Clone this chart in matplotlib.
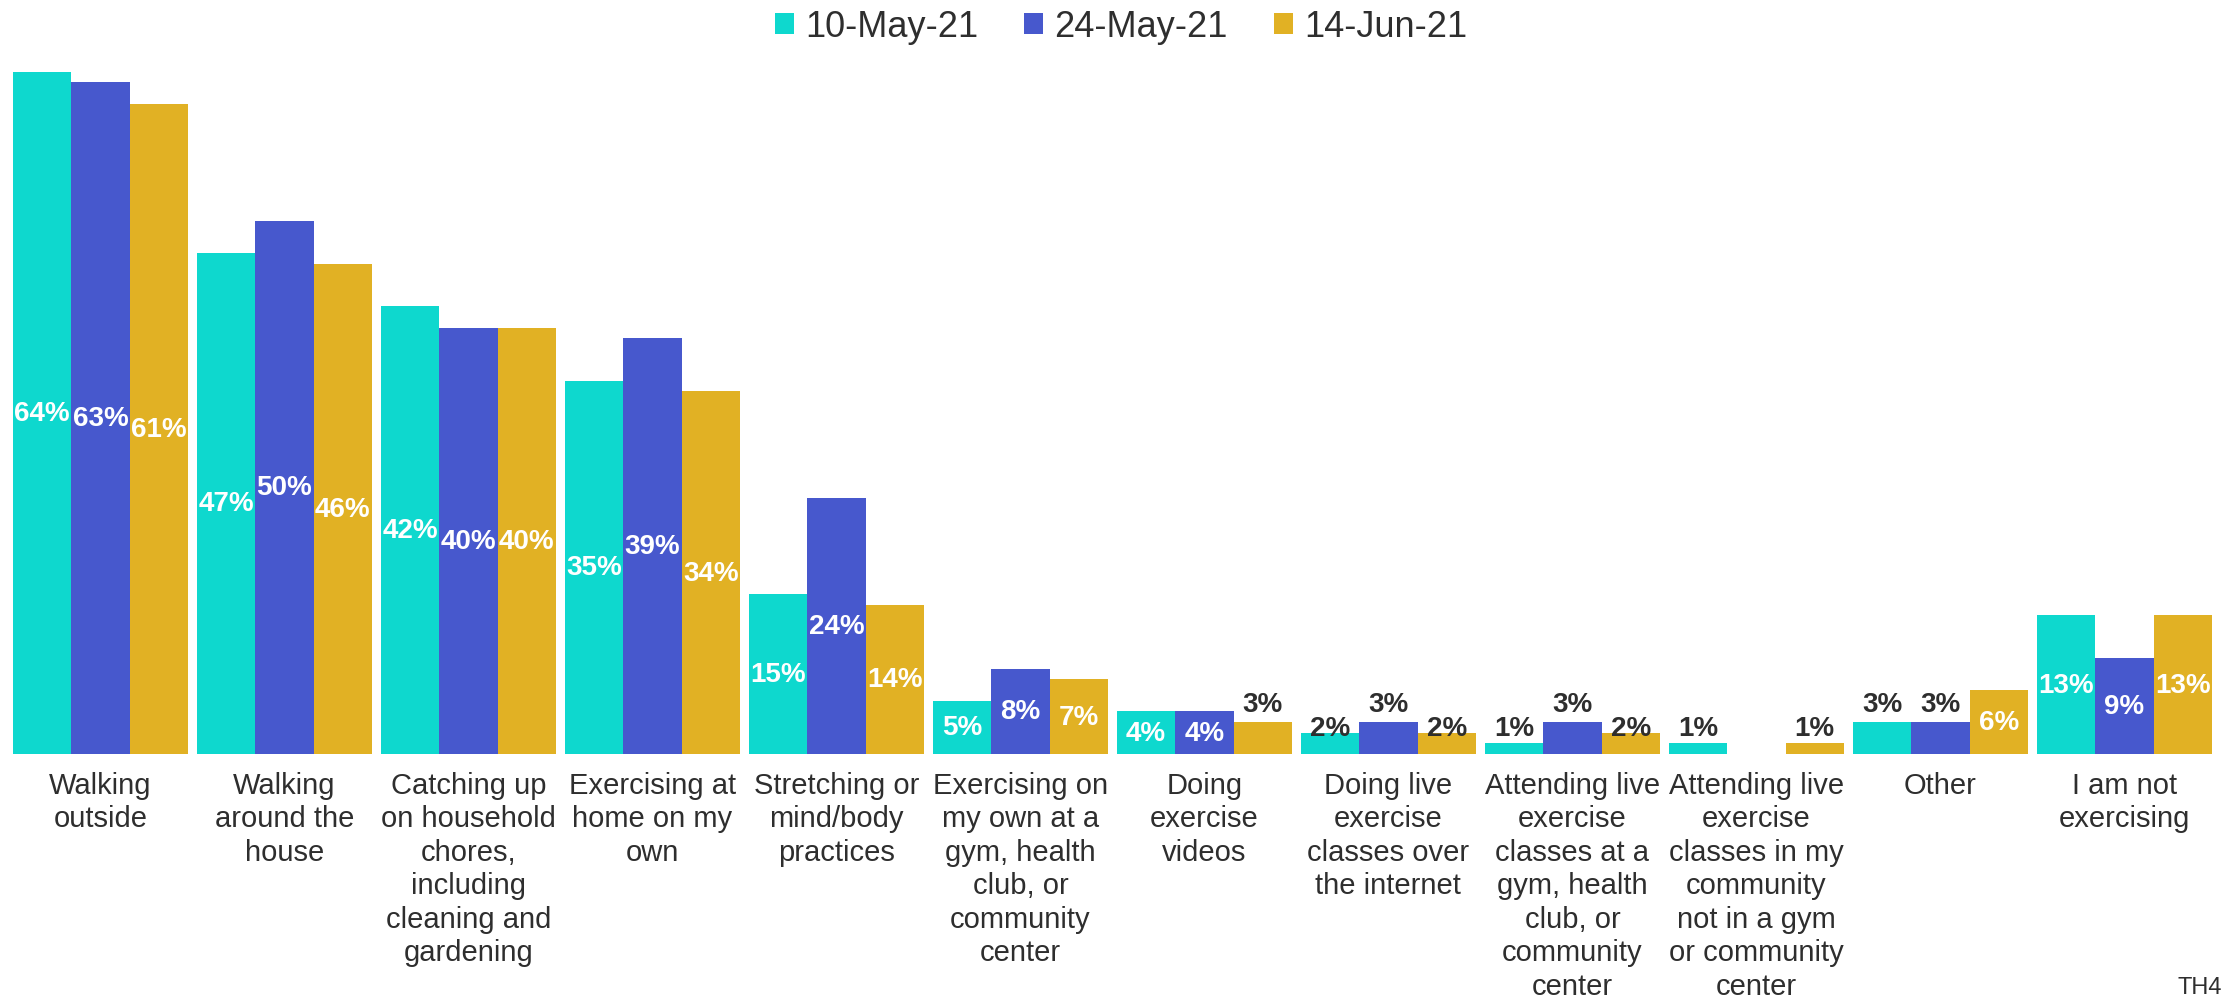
import numpy as np
import matplotlib
matplotlib.use("Agg")
import matplotlib.pyplot as plt
from matplotlib.patches import Patch
from matplotlib import font_manager

# Survey answers: what people are doing for exercise
categories = [
    "Walking\noutside",
    "Walking\naround the\nhouse",
    "Catching up\non household\nchores,\nincluding\ncleaning and\ngardening",
    "Exercising at\nhome on my\nown",
    "Stretching or\nmind/body\npractices",
    "Exercising on\nmy own at a\ngym, health\nclub, or\ncommunity\ncenter",
    "Doing\nexercise\nvideos",
    "Doing live\nexercise\nclasses over\nthe internet",
    "Attending live\nexercise\nclasses at a\ngym, health\nclub, or\ncommunity\ncenter",
    "Attending live\nexercise\nclasses in my\ncommunity\nnot in a gym\nor community\ncenter",
    "Other",
    "I am not\nexercising",
]
waves = ["10-May-21", "24-May-21", "14-Jun-21"]
may10 = [64, 47, 42, 35, 15, 5, 4, 2, 1, 1, 3, 13]
may24 = [63, 50, 40, 39, 24, 8, 4, 3, 3, np.nan, 3, 9]
jun14 = [61, 46, 40, 34, 14, 7, 3, 2, 2, 1, 6, 13]
colors = ["#0ED8CE", "#4758CD", "#E1B124"]

available = {f.name for f in font_manager.fontManager.ttflist}
narrow = "Liberation Sans Narrow" in available
plt.rcParams["font.family"] = ["Liberation Sans", "DejaVu Sans"]
dark = "#2E2E2E"

fig = plt.figure(figsize=(22.33, 10.03), dpi=100)
ax = fig.add_axes([0.00376, 0.2473, 0.9888, 0.7015])

x = np.arange(len(categories))
w = 0.95 / 3
series = [may10, may24, jun14]
for k, (vals, col, name) in enumerate(zip(series, colors, waves)):
    vals = np.array(vals, dtype=float)
    xs = x + (k - 1) * w
    ax.bar(xs, vals, width=w, color=col, label=name, linewidth=0)
    for xi, v in zip(xs, vals):
        if np.isnan(v):
            continue
        txt = f"{v:.0f}%"
        if v >= 4:
            ax.text(xi, v / 2, txt, ha="center", va="center", color="white",
                    fontsize=20, fontweight="bold")
        else:
            # small bars get their label just above the bar
            y = v + 1.7 if v >= 3 else 2.4
            ax.text(xi, y, txt, ha="center", va="center", color=dark,
                    fontsize=20, fontweight="bold")

ax.set_xlim(-0.5, len(categories) - 0.5)
ax.set_ylim(0, 66)
ax.set_yticks([])
ax.set_xticks(x)
if narrow:
    ax.set_xticklabels(categories, family=["Liberation Sans Narrow", "Liberation Sans"],
                       fontsize=25, color=dark, linespacing=1.035)
else:
    ax.set_xticklabels(categories, fontsize=21, color=dark, linespacing=1.25)
ax.tick_params(axis="x", length=0, pad=12)
for s in ax.spines.values():
    s.set_visible(False)

handles = [Patch(facecolor=c, edgecolor="none") for c in colors]
fig.legend(handles, waves, loc="upper center", bbox_to_anchor=(0.502, 1.022),
           ncol=3, frameon=False, fontsize=26, handlelength=0.53, handleheight=0.53,
           handletextpad=0.3, columnspacing=1.28, labelcolor=dark)

fig.text(0.995, 0.004, "TH4", ha="right", va="bottom", fontsize=17, color=dark)

fig.savefig("out.png", dpi=100)
